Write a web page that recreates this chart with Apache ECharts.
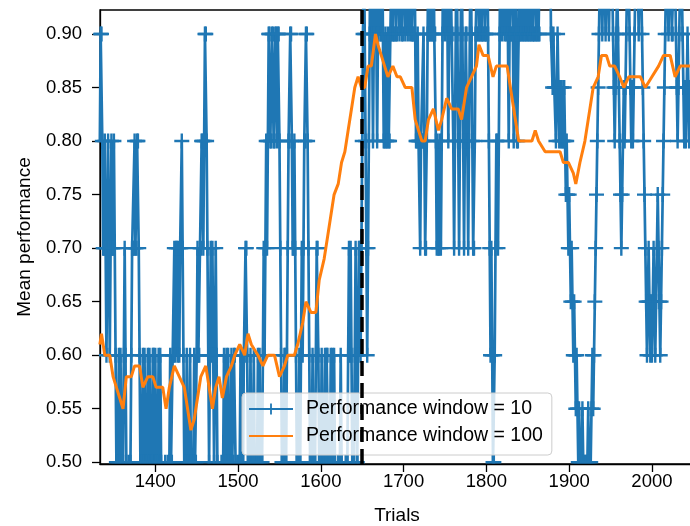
<!DOCTYPE html>
<html>
<head>
<meta charset="utf-8">
<script src="https://cdn.jsdelivr.net/npm/echarts@6/dist/echarts.min.js"></script>
<style>
html,body{margin:0;padding:0;background:#fff;}
#main{width:690px;height:526px;}
</style>
</head>
<body>
<div id="main"></div>
<script>
// window = 10, one value per trial (in %), starting at firstTrial
var firstTrial = 1333;
var perf10 = [
	80,90,90,80,70,70,80,70,60,70,   //1333
	80,70,60,70,80,70,70,80,70,60,   //1343
	50,40,50,60,50,60,50,40,50,60,   //1353
	70,60,50,40,40,50,40,50,60,70,   //1363
	70,70,80,70,70,80,80,70,60,50,   //1373
	40,50,60,50,60,50,40,50,60,50,   //1383
	60,50,40,50,60,60,50,60,50,40,   //1393
	50,60,50,60,50,40,40,30,40,50,   //1403
	40,40,50,40,50,60,50,50,60,60,   //1413
	70,60,70,70,60,70,60,70,70,80,   //1423
	70,60,50,40,50,60,50,40,50,60,   //1433
	50,40,40,50,60,50,50,60,70,60,   //1443
	60,70,70,80,80,70,80,90,90,80,   //1453
	70,60,50,60,70,60,70,60,50,60,   //1463
	70,60,50,40,40,30,40,50,40,50,   //1473
	60,50,50,60,50,60,50,40,50,60,   //1483
	50,50,60,60,50,40,40,50,40,50,   //1493
	60,50,60,50,60,60,70,70,60,50,   //1503
	40,50,60,50,40,50,60,50,40,40,   //1513
	50,60,50,60,50,40,50,60,70,60,   //1523
	70,80,70,80,90,90,80,80,90,90,   //1533
	80,80,90,90,80,90,90,80,70,60,   //1543
	50,40,50,60,60,50,60,70,80,80,   //1553
	90,90,80,70,70,80,70,60,50,40,   //1563
	50,60,50,60,70,60,70,80,80,90,   //1573
	90,80,70,60,50,40,50,60,50,40,   //1583
	50,60,70,70,60,50,40,50,60,50,   //1593
	40,50,60,50,60,60,50,40,50,60,   //1603
	50,60,50,60,50,40,30,40,50,40,   //1613
	50,60,50,40,30,30,40,50,40,50,   //1623
	60,70,60,70,60,50,40,50,60,70,   //1633
	60,50,60,70,70,60,70,80,90,100,  //1643
	90,80,70,60,70,80,90,100,100,90, //1653
	80,90,100,100,90,80,90,100,100,90, //1663
	90,100,90,80,80,90,80,80,90,80,  //1673
	80,90,90,100,90,90,90,100,90,90, //1683
	100,100,90,100,100,90,90,100,100,90, //1693
	100,100,90,100,100,90,100,90,90,90,  //1703
	100,90,80,80,90,80,80,70,80,80,  //1713
	80,90,80,70,70,80,90,100,90,90,  //1723
	100,90,90,100,90,90,80,70,80,70, //1733
	70,80,70,80,90,100,100,90,100,100, //1743
	90,80,90,100,100,90,90,80,70,80, //1753
	90,100,90,80,70,80,90,100,90,80, //1763
	70,80,90,90,80,70,80,90,100,90,  //1773
	80,70,70,80,90,90,90,100,90,90,  //1783
	100,90,90,90,100,90,90,90,100,90, //1793
	80,70,60,70,60,50,50,60,70,80,   //1803
	80,70,80,90,100,100,90,100,100,90, //1813
	100,90,100,90,80,90,90,90,100,90, //1823
	80,90,100,90,80,80,90,100,90,90, //1833
	100,90,90,100,90,90,100,90,90,100, //1843
	90,90,100,90,90,90,100,90,90,100, //1853
	90,90,100,100,100,100,100,100,100,100, //1863
	100,100,100,100,100,90,90,85,90,85, //1873
	85,80,85,90,85,80,85,80,85,80,   //1883
	80,85,80,75,80,75,70,75,70,65,   //1893
	70,65,60,65,60,55,60,55,50,55,   //1903
	50,45,50,55,50,45,50,50,45,50,   //1913
	55,50,45,50,55,60,55,60,65,70,   //1923
	75,80,85,90,95,100,95,90,95,100, //1933
	95,90,95,100,95,90,95,100,100,95, //1943
	90,85,80,85,90,95,90,85,80,75,   //1953
	70,75,80,85,80,85,90,95,100,95,  //1963
	90,85,80,85,80,85,90,95,100,100, //1973
	95,90,95,100,95,90,85,80,75,70,  //1983
	65,60,65,70,65,60,65,60,65,70,   //1993
	65,60,65,70,75,70,65,60,65,70,   //2003
	75,80,85,90,95,100,95,90,95,100, //2013
	95,90,90,95,100,95,90,85,80,85,  //2023
	90,95,100,95,90,85,80,85,80,85,  //2033
	90,85,80,85                      //2043
];

// window = 100
var trials100 = [1333,1335,1339,1345,1349,1353,1357,1361,1365,1371,1375,1381,1385,1391,1397,1401,1409,1413,1417,1423,
	1429,1435,1439,1443,1447,1451,1455,1461,1465,1469,1473,1477,1481,1486,1492,1496,1502,1508,1512,1516,
	1524,1530,1536,1544,1550,1556,1560,1568,1572,1578,1582,1588,1594,1598,1604,1608,1612,1616,1621,1625,
	1629,1633,1637,1641,1645,1649,1653,1657,1661,1666,1669,1673,1677,1681,1687,1692,1696,1702,1710,1714,
	1718,1722,1726,1730,1736,1742,1746,1752,1758,1766,1770,1776,1782,1788,1791,1796,1802,1808,1812,1818,
	1825,1839,1843,1855,1859,1863,1871,1879,1889,1893,1899,1905,1908,1913,1919,1925,1929,1935,1939,1945,
	1949,1955,1961,1966,1972,1980,1986,1992,2000,2008,2014,2022,2028,2034,2046];
var perf100 = [0.61,0.62,0.60,0.60,0.58,0.57,0.56,0.55,0.58,0.58,0.59,0.59,0.57,0.58,0.58,0.57,0.57,0.55,0.57,0.59,
	0.58,0.57,0.55,0.53,0.54,0.56,0.58,0.59,0.57,0.55,0.57,0.58,0.56,0.58,0.59,0.60,0.61,0.60,0.62,0.61,
	0.60,0.59,0.60,0.60,0.58,0.59,0.60,0.60,0.61,0.63,0.65,0.64,0.64,0.67,0.69,0.71,0.73,0.75,0.76,0.78,
	0.79,0.81,0.83,0.85,0.86,0.85,0.85,0.87,0.87,0.90,0.89,0.88,0.87,0.86,0.87,0.86,0.86,0.85,0.85,0.82,
	0.81,0.80,0.80,0.82,0.83,0.81,0.82,0.84,0.83,0.83,0.82,0.85,0.86,0.87,0.89,0.88,0.88,0.86,0.87,0.87,
	0.87,0.80,0.80,0.80,0.81,0.80,0.79,0.79,0.79,0.78,0.78,0.77,0.76,0.78,0.80,0.83,0.85,0.86,0.88,0.88,
	0.87,0.87,0.86,0.85,0.86,0.86,0.86,0.85,0.86,0.87,0.88,0.88,0.86,0.87,0.87];

var switchTrial = 1650;
var xTicks = [1400,1500,1600,1700,1800,1900,2000];
var yTicks = [0.50,0.55,0.60,0.65,0.70,0.75,0.80,0.85,0.90];
var names = ['Performance window = 10','Performance window = 100'];

var font = '"Liberation Sans", Arial, Helvetica, sans-serif';
var plus = 'path://M0,6.3H15V8.7H0Z M6.3,0H8.7V15H6.3Z';

var data10 = [];
for (var i = 0; i < perf10.length; i++) {
	data10.push([firstTrial + i, perf10[i] / 100]);
}
var data100 = [];
for (var j = 0; j < trials100.length; j++) {
	data100.push([trials100[j], perf100[j]]);
}

var myChart = echarts.init(document.getElementById('main'), null, {renderer: 'canvas'});
var option = {
	animation: false,
	textStyle: {fontFamily: font},
	grid: {
		left: 100, right: -4, top: 10, bottom: 62,
		outerBoundsMode: 'none', containLabel: false,
		show: true, borderColor: '#000', borderWidth: 1.3
	},
	// markers are not clipped by echarts: hide the bits hanging below the bottom spine
	graphic: [{
		type: 'rect', left: 101, top: 465, z: 3, silent: true,
		shape: {width: 600, height: 10},
		style: {fill: '#fff'}
	}],
	legend: {
		data: [
			{name: names[0]},
			{name: names[1], itemStyle: {opacity: 0}}
		],
		orient: 'vertical',
		left: 242, top: 393,
		itemWidth: 44, itemHeight: 14, itemGap: 7,
		padding: [6, 9, 9, 6],
		backgroundColor: 'rgba(255,255,255,0.8)',
		borderColor: '#cccccc', borderWidth: 1, borderRadius: 4,
		textStyle: {fontSize: 19.5, color: '#000', fontFamily: font, padding: [0, 0, 0, 8]}
	},
	xAxis: {
		type: 'value',
		z: 6,
		min: 1333.2, max: 2050.8,
		name: 'Trials', nameLocation: 'middle', nameGap: 42,
		nameTextStyle: {fontSize: 19, color: '#000', fontFamily: font},
		axisLine: {show: true, lineStyle: {color: '#000', width: 1.3}},
		axisTick: {show: true, customValues: xTicks, length: 8, lineStyle: {color: '#000', width: 1.3}},
		axisLabel: {
			customValues: xTicks, margin: 8, fontSize: 18.5, color: '#000', fontFamily: font,
			formatter: function (v) { return String(v); }
		},
		splitLine: {show: false}
	},
	yAxis: {
		type: 'value',
		min: 0.4984, max: 0.9224,
		name: 'Mean performance', nameLocation: 'middle', nameGap: 66,
		nameTextStyle: {fontSize: 19, color: '#000', fontFamily: font},
		axisLine: {show: true, lineStyle: {color: '#000', width: 1.3}},
		axisTick: {show: true, customValues: yTicks, length: 8, lineStyle: {color: '#000', width: 1.3}},
		axisLabel: {
			customValues: yTicks, margin: 18, fontSize: 18.5, color: '#000', fontFamily: font,
			formatter: function (v) { return v.toFixed(2); }
		},
		splitLine: {show: false}
	},
	series: [
		{
			name: names[0],
			type: 'line',
			data: data10,
			z: 2,
			symbol: plus,
			symbolSize: 15,
			showAllSymbol: true,
			itemStyle: {color: '#1f77b4'},
			lineStyle: {color: '#1f77b4', width: 2.7},
			emphasis: {disabled: true}
		},
		{
			name: 'switch',
			type: 'line',
			data: [],
			z: 3,
			markLine: {
				silent: true,
				symbol: 'none',
				label: {show: false},
				lineStyle: {color: '#000', width: 3.5, type: [15, 7]},
				data: [{xAxis: switchTrial}]
			}
		},
		{
			name: names[1],
			type: 'line',
			data: data100,
			z: 4,
			symbol: 'none',
			itemStyle: {color: '#ff7f0e'},
			lineStyle: {color: '#ff7f0e', width: 3},
			emphasis: {disabled: true}
		}
	]
};
myChart.setOption(option);
</script>
</body>
</html>
